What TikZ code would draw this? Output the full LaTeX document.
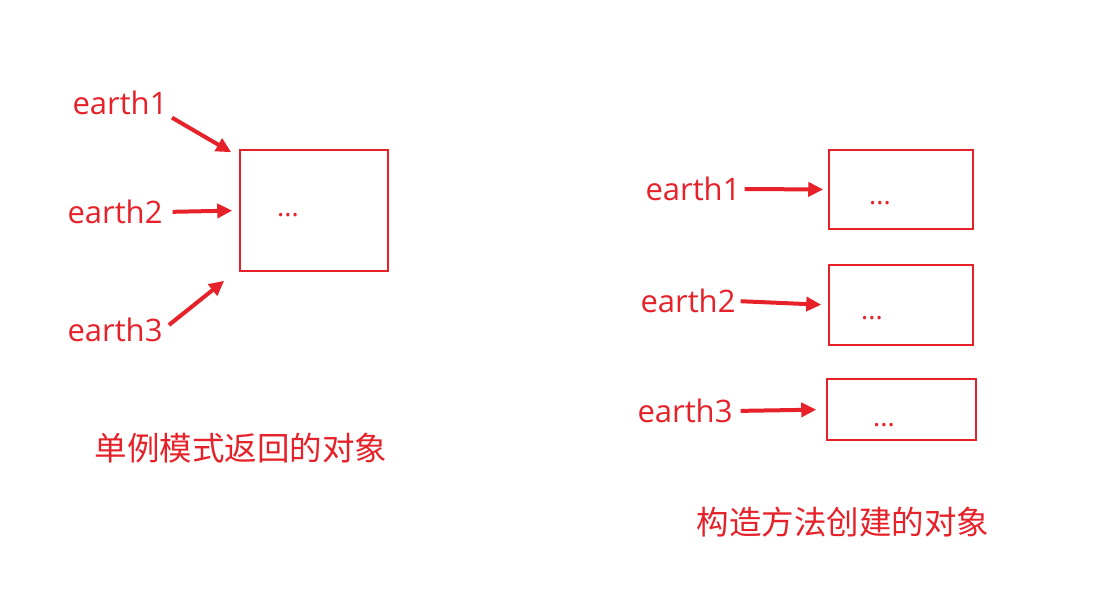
\documentclass[tikz,border=0pt]{standalone}
\usepackage{fontspec}
\setmainfont{Open Sans}
\newfontfamily\cjk{Noto Sans CJK SC}
\usetikzlibrary{arrows.meta}
\definecolor{PRed}{RGB}{230,33,41}

\begin{document}
\begin{tikzpicture}[x=1pt,y=-1pt,
    obj/.style={draw=PRed,line width=1.5pt,inner sep=0pt},
    ref/.style={text=PRed,inner sep=0pt,font=\fontsize{31}{36}\selectfont},
    dots/.style={text=PRed,inner sep=0pt,font=\fontsize{27}{30}\selectfont},
    title/.style={text=PRed,inner sep=0pt,font=\cjk\fontsize{32.5}{38}\selectfont},
    link/.style={draw=PRed,line width=4pt,-{Triangle[length=15pt,width=14pt]}}]
  \useasboundingbox (0,0) rectangle (1095,605);

  % one shared object
  \node[obj,minimum width=148pt,minimum height=121pt] (single) at (314,210.5) {};
  \node[dots] (sdots) at (288,215) {...};
  \node[ref] (e1) at (120,103) {earth1};
  \node[ref] (e2) at (115,212) {earth2};
  \node[ref] (e3) at (115,330) {earth3};
  \draw[link,shorten <=5pt] (e1.south east) -- ([xshift=-8pt,yshift=-3pt]single.north west);
  \draw[link,shorten <=10pt,shorten >=7pt] (e2.east) -- (single.west);
  \draw[link,shorten <=8pt] (e3.east) -- ([xshift=-15pt,yshift=-9pt]single.south west);
  \node[title] (stitle) at (241,448) {单例模式返回的对象};

  % three separate objects
  \node[obj,minimum width=144pt,minimum height=79pt] (o1) at (901,189.5) {};
  \node[obj,minimum width=144pt,minimum height=80pt] (o2) at (901,305) {};
  \node[obj,minimum width=149pt,minimum height=61pt] (o3) at (901.5,409.5) {};
  \node[dots] (d1) at (880,203) {...};
  \node[dots] (d2) at (872,318) {...};
  \node[dots] (d3) at (884,425) {...};
  \node[ref] (f1) at (693,189) {earth1};
  \node[ref] (f2) at (688,301) {earth2};
  \node[ref] (f3) at (685,411) {earth3};
  \draw[link,shorten <=4pt,shorten >=5pt] (f1.east) -- (o1.west);
  \draw[link,shorten <=5pt,shorten >=7pt] (f2.east) -- (o2.west);
  \draw[link,shorten <=8pt,shorten >=10pt] (f3.east) -- (o3.west);
  \node[title] (mtitle) at (843,522) {构造方法创建的对象};
\end{tikzpicture}
\end{document}
